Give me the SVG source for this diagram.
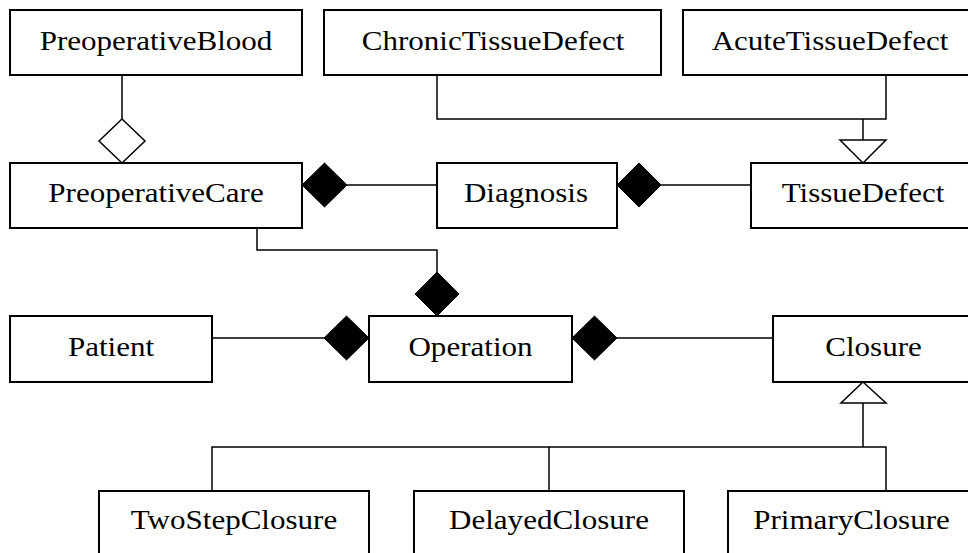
<svg xmlns="http://www.w3.org/2000/svg" width="968" height="553" viewBox="0 0 968 553">
<style>
.box{fill:#fff;stroke:#000;stroke-width:2}
.lbl{font-size:27px;fill:#000;text-anchor:middle}
.ln{fill:none;stroke:#000;stroke-width:1.5}
.fd{fill:#000;stroke:#000;stroke-width:1}
.hd{fill:#fff;stroke:#000;stroke-width:1.5}
</style>
<rect width="968" height="553" fill="#fff"/>
<g id="connectors">
  <path class="ln" d="M122,75 V119"/>
  <path class="hd" d="M122,119 L145,141 L122,163 L99,141 Z"/>
  <path class="ln" d="M437,75 V119 H886 V75"/>
  <path class="ln" d="M863,119 V140"/>
  <path class="hd" d="M840,140 H886 L863,163 Z"/>
  <path class="ln" d="M347,185 H437"/>
  <path class="fd" d="M302,185 L324.5,163 L347,185 L324.5,207 Z"/>
  <path class="ln" d="M661,185 H751"/>
  <path class="fd" d="M617,185 L639,163 L661,185 L639,207 Z"/>
  <path class="ln" d="M257,228 V250 H437 V272"/>
  <path class="fd" d="M437,272 L459,294 L437,316 L415,294 Z"/>
  <path class="ln" d="M212,338 H324"/>
  <path class="fd" d="M324,338 L346.5,316 L369,338 L346.5,360 Z"/>
  <path class="ln" d="M617,338 H773"/>
  <path class="fd" d="M572,338 L594.5,316 L617,338 L594.5,360 Z"/>
  <path class="hd" d="M863,382 L886,403 H841 Z"/>
  <path class="ln" d="M863,403 V447 M212,491 V447 H886 V491 M549,447 V491"/>
</g>
<g id="nodes" font-family="Liberation Serif">
<g id="PreoperativeBlood"><rect class="box" x="10" y="10" width="292" height="65"/><text class="lbl" transform="translate(156,50) scale(1.15,1)">PreoperativeBlood</text></g>
<g id="ChronicTissueDefect"><rect class="box" x="324" y="10" width="337" height="65"/><text class="lbl" transform="translate(493,50) scale(1.15,1)">ChronicTissueDefect</text></g>
<g id="AcuteTissueDefect"><rect class="box" x="683" y="10" width="294" height="65"/><text class="lbl" transform="translate(830,50) scale(1.15,1)">AcuteTissueDefect</text></g>
<g id="PreoperativeCare"><rect class="box" x="10" y="163" width="292" height="65"/><text class="lbl" transform="translate(156,202) scale(1.15,1)">PreoperativeCare</text></g>
<g id="Diagnosis"><rect class="box" x="437" y="163" width="180" height="65"/><text class="lbl" transform="translate(526,202) scale(1.15,1)">Diagnosis</text></g>
<g id="TissueDefect"><rect class="box" x="751" y="163" width="224" height="65"/><text class="lbl" transform="translate(863,202) scale(1.15,1)">TissueDefect</text></g>
<g id="Patient"><rect class="box" x="10" y="316" width="202" height="66"/><text class="lbl" transform="translate(111,356) scale(1.15,1)">Patient</text></g>
<g id="Operation"><rect class="box" x="369" y="316" width="203" height="66"/><text class="lbl" transform="translate(470.5,356) scale(1.15,1)">Operation</text></g>
<g id="Closure"><rect class="box" x="773" y="316" width="201" height="66"/><text class="lbl" transform="translate(873.5,356) scale(1.15,1)">Closure</text></g>
<g id="TwoStepClosure"><rect class="box" x="99" y="491" width="270" height="66"/><text class="lbl" transform="translate(234,529) scale(1.15,1)">TwoStepClosure</text></g>
<g id="DelayedClosure"><rect class="box" x="414" y="491" width="270" height="66"/><text class="lbl" transform="translate(549,529) scale(1.15,1)">DelayedClosure</text></g>
<g id="PrimaryClosure"><rect class="box" x="728" y="491" width="247" height="66"/><text class="lbl" transform="translate(851.5,529) scale(1.15,1)">PrimaryClosure</text></g>
</g>
</svg>
